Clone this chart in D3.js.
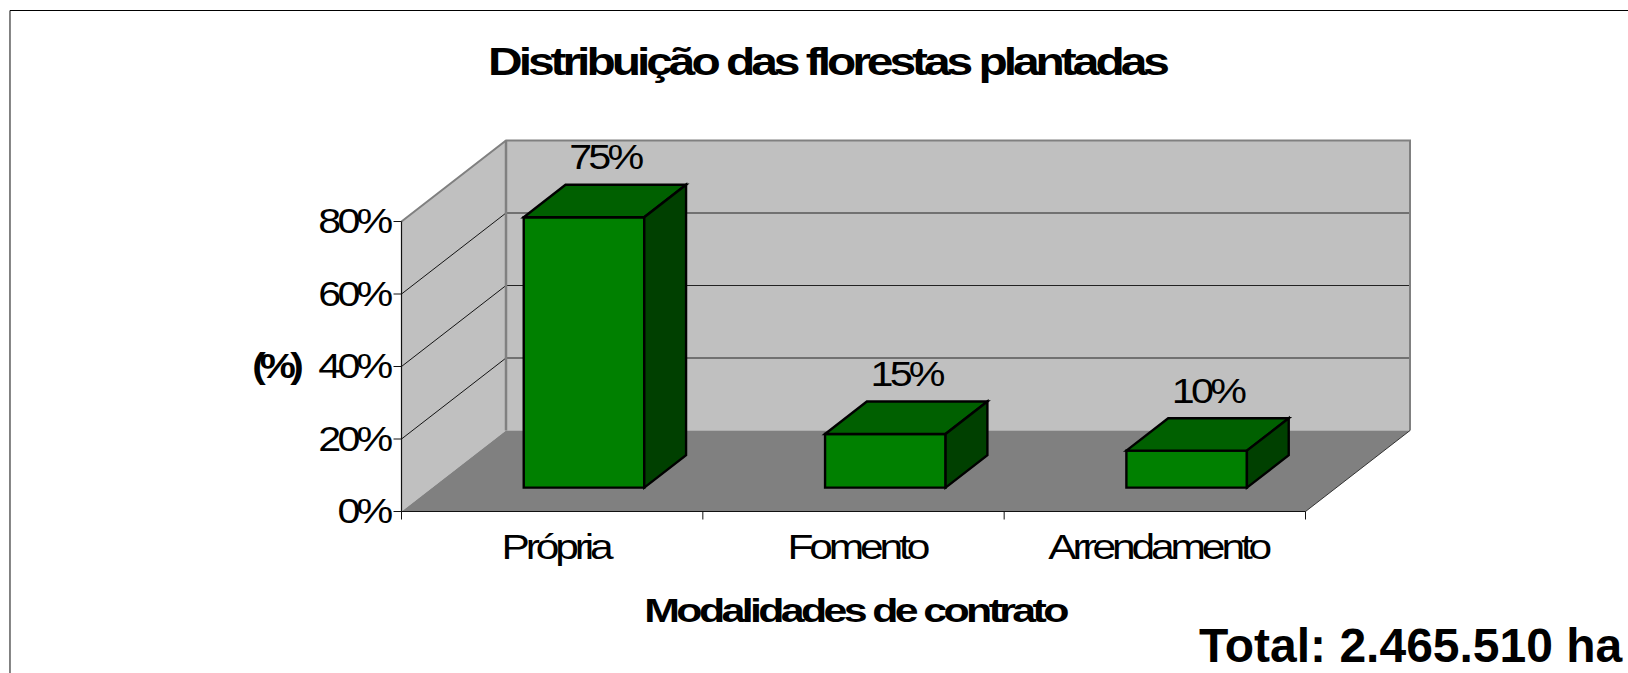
<!DOCTYPE html>
<html><head><meta charset="utf-8">
<script src="https://cdn.jsdelivr.net/npm/d3@7/dist/d3.min.js"></script>
<style>html,body{margin:0;padding:0;background:#fff}svg{display:block}text{font-family:"Liberation Sans",Arial,sans-serif;fill:#000}</style>
</head><body><div id="c"></div>
<script>
const categories = ["Própria","Fomento","Arrendamento"];
const barValues = [74.6,14.8,10.2];
const barLabels = ["75%","15%","10%"];
const yTicks = [0,20,40,60,80];
const gridTicks = [20,40,60];
const titleText = "Distribuição das florestas plantadas";
const xTitle = "Modalidades de contrato";
const yTitle = "(%)";
const totalText = "Total: 2.465.510 ha";

const W=1628,H=673;
const svg=d3.select("#c").append("svg").attr("width",W).attr("height",H);

const x=d3.scaleBand().domain(categories).range([402.5,1306.5]).paddingInner(0.6).paddingOuter(0.3);
const edges=d3.scaleLinear().domain([0,3]).range([401.5,1305.5]);
const y=d3.scaleLinear().domain([0,80]).range([511.5,221.5]);
const depthX=d3.scaleLinear().domain([0,1]).range([0,104.5]);
const depthY=d3.scaleLinear().domain([0,1]).range([0,-81]);
const pt=(px,v,z)=>[px+depthX(z),y(v)+depthY(z)];
const poly=pts=>d3.line()(pts)+"Z";
const x0=edges(0),x3=edges(3);

function label(str,px,py,o){
  return svg.append("text").attr("transform",`translate(${px},${py}) scale(${o.sx},1)`)
    .attr("text-anchor",o.anchor||"middle").attr("font-size",o.size)
    .attr("font-weight",o.bold?"bold":"normal").attr("letter-spacing",o.ls||0).text(str);
}

// frame
svg.append("path").attr("d",`M${W},10.5H10V${H}`).attr("fill","none").attr("stroke","#000").attr("stroke-width",1);
svg.append("path").attr("d",`M10.5,11V${H}`).attr("fill","none").attr("stroke","#888").attr("stroke-width",1);

// walls
svg.append("path").attr("d",poly([pt(x0,0,1),pt(x0,80,1),pt(x3,80,1),pt(x3,0,1)])).attr("fill","#c0c0c0");
svg.append("path").attr("d",poly([pt(x0,0,0),pt(x0,80,0),pt(x0,80,1),pt(x0,0,1)])).attr("fill","#c0c0c0");
svg.append("path").attr("d",poly([pt(x0,0,0),pt(x3,0,0),pt(x3,0,1),pt(x0,0,1)])).attr("fill","#808080");

// gridlines
gridTicks.forEach(t=>{
  svg.append("path").attr("d",d3.line()([pt(x0,t,0),pt(x0,t,1)])).attr("fill","none").attr("stroke","#000").attr("stroke-width",0.9);
  svg.append("path").attr("d",d3.line()([pt(x0,t,1),pt(x3,t,1)])).attr("fill","none").attr("stroke","#222").attr("stroke-width",1);
});
// wall borders
svg.append("path").attr("d",d3.line()([pt(x0,80,0),pt(x0,80,1),pt(x3,80,1),pt(x3,0,1)])).attr("fill","none").attr("stroke","#808080").attr("stroke-width",2);
svg.append("path").attr("d",d3.line()([pt(x0,0,1),pt(x0,80,1)])).attr("fill","none").attr("stroke","#808080").attr("stroke-width",2.5);
svg.append("path").attr("d",d3.line()([pt(x3,0,1),pt(x3,0,0)])).attr("fill","none").attr("stroke","#333").attr("stroke-width",1);

// axes
svg.append("path").attr("d",d3.line()([pt(x0,80,0),pt(x0,0,0),pt(x3,0,0)])).attr("fill","none").attr("stroke","#111").attr("stroke-width",1.2);
yTicks.forEach(t=>{
  svg.append("line").attr("x1",x0-8).attr("x2",x0).attr("y1",y(t)).attr("y2",y(t)).attr("stroke","#111").attr("stroke-width",1);
  label(t+"%",x0-12,y(t)+11.5,{sx:1.18,size:35,ls:-3.2,anchor:"end"});
});
d3.range(4).forEach(i=>{
  svg.append("line").attr("x1",edges(i)).attr("x2",edges(i)).attr("y1",y(0)).attr("y2",y(0)+8).attr("stroke","#111").attr("stroke-width",1);
});

// bars
const zA=0.295,zB=0.695;
categories.forEach((c,i)=>{
  const l=x(c),r=l+x.bandwidth(),v=barValues[i];
  const g=svg.append("g").attr("stroke","#000").attr("stroke-width",2.4).attr("stroke-linejoin","miter");
  g.append("path").attr("fill","#008000").attr("d",poly([pt(l,0,zA),pt(l,v,zA),pt(r,v,zA),pt(r,0,zA)]));
  g.append("path").attr("fill","#006000").attr("d",poly([pt(l,v,zA),pt(l,v,zB),pt(r,v,zB),pt(r,v,zA)]));
  g.append("path").attr("fill","#004000").attr("d",poly([pt(r,0,zA),pt(r,v,zA),pt(r,v,zB),pt(r,0,zB)]));
  const p=pt((l+r)/2,v,zB);
  label(barLabels[i],p[0]-21,p[1]-15.5,{sx:1.18,size:35,ls:-3.2});
  label(c,edges(i)+154,559,{sx:1.215,size:35,ls:-3.4});
});

// titles
label(titleText,827,75,{sx:1.262,size:38,bold:true,ls:-3.2});
label(xTitle,855,622,{sx:1.3,size:33,bold:true,ls:-2.8});
label(yTitle,275,378,{sx:1.16,size:35,bold:true,ls:-5});
label(totalText,1199,662,{sx:1.0,size:48,bold:true,anchor:"start"});
</script></body></html>
